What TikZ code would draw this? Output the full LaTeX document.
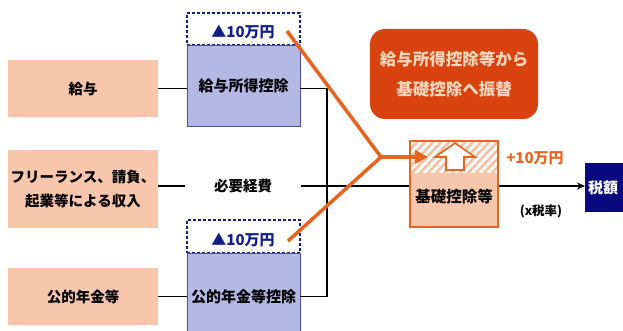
\documentclass[tikz,border=0pt]{standalone}
\usepackage{fontspec}
\setmainfont{Noto Sans CJK JP}
\usetikzlibrary{arrows.meta}
\definecolor{salmon}{HTML}{F8C6AA}
\definecolor{bluefill}{HTML}{B4B8E4}
\definecolor{blueline}{HTML}{4A4F9F}
\definecolor{navy}{HTML}{10208A}
\definecolor{deepnavy}{HTML}{0A0A80}
\definecolor{orng}{HTML}{E8641E}
\definecolor{redorng}{HTML}{D8430F}
\definecolor{peach}{HTML}{FAD8BE}
\definecolor{hatchc}{HTML}{F8C0A2}
\begin{document}
\begin{tikzpicture}[x=1pt,y=-1pt,
  inbox/.style={fill=salmon, minimum width=150pt, inner sep=0pt, align=center,
    font=\fontsize{14.5}{24}\selectfont\bfseries},
  bluebox/.style={fill=bluefill, draw=blueline, line width=0.8pt, minimum width=113pt, inner sep=0pt,
    font=\fontsize{15}{18}\selectfont\bfseries},
  dashbox/.style={draw=navy, densely dashed, line width=1.2pt, fill=white, minimum width=113pt, inner sep=0pt,
    text=navy, font=\fontsize{15}{18}\selectfont\bfseries},
  plain/.style={inner sep=0pt, font=\fontsize{14.5}{18}\selectfont\bfseries},
  conn/.style={line width=1.3pt, black},
  oline/.style={line width=3.5pt, orng},
  hatch/.style={hatchc, line width=2.6pt}]
\useasboundingbox (0,0) rectangle (623,331);

% left input boxes
\node[inbox, minimum height=57pt] (L1) at (83,88.5) {給与};
\node[inbox, minimum height=78pt] (L2) at (83,189) {フリーランス、請負、\\起業等による収入};
\node[inbox, minimum height=57pt] (L3) at (83,296.5) {公的年金等};

% blue deduction boxes
\node[dashbox, minimum height=32pt] (D1) at (243.5,29) {};
\node[plain, text=navy, font=\fontsize{15}{18}\selectfont\bfseries] (D1t) at (243,32) {▲10万円};
\node[bluebox, minimum height=81pt] (B1) at (243.5,85.5) {給与所得控除};
\node[dashbox, minimum height=33pt] (D2) at (243.5,236.5) {};
\node[plain, text=navy, font=\fontsize{15}{18}\selectfont\bfseries] (D2t) at (243,240) {▲10万円};
\node[bluebox, minimum height=88pt] (B2) at (243.5,297) {公的年金等控除};

% middle label
\node[plain, minimum width=115pt] (H) at (243,186) {必要経費};

% connectors
\coordinate (bx) at (327,88.5);
\draw[conn] (L1.east) -- (L1.east -| B1.west);
\draw[conn, line join=miter] (L1.east -| B1.east) -- (bx) -- (bx |- L3.east) -- (L3.east -| B2.east);
\draw[conn] (L3.east) -- (L3.east -| B2.west);

% base deduction box
\fill[white] (410,141) rectangle (498,173);
\begin{scope}
  \clip (410,141) rectangle (498,173);
  \foreach \i in {370,378,...,500} \draw[hatch] (\i,175) -- ++(34,-36);
\end{scope}
\fill[salmon] (410,173) rectangle (498,227);
\node[draw=orng, line width=1.6pt, minimum width=88pt, minimum height=86pt, inner sep=0pt] (K) at (454,184) {};
\node[plain, font=\fontsize{15.5}{18}\selectfont\bfseries] (Kt) at (454,197) {基礎控除等};
\draw[orng, line width=1.6pt, fill=white] (446,170) -- (446,157) -- (435,157) -- (455,143) -- (475,157) -- (464,157) -- (464,170) -- cycle;

\draw[conn] (L2.east |- H) -- (H.west);
\draw[conn] (H.east) -- (H.east -| K.west);

% tax box
\node[fill=deepnavy, text=white, minimum width=56pt, minimum height=49pt, inner sep=0pt, anchor=west,
  font=\fontsize{15}{18}\selectfont\bfseries, text width=50pt] (T) at (585,187.5) {税額};
\draw[conn, -{Stealth[length=8pt,width=7pt]}] (K.east |- H) -- (T.west |- H);

\node[plain, text=orng, font=\fontsize{15}{18}\selectfont\bfseries] (P) at (535,158) {+10万円};
\node[plain, font=\fontsize{12.5}{14}\selectfont\bfseries] (X) at (541,211) {(x税率)};

% orange callout
\node[fill=redorng, rounded corners=15pt, minimum width=168pt, minimum height=90pt, text=peach, align=center,
  font=\fontsize{16.5}{30}\selectfont\bfseries] (R) at (454,74) {給与所得控除等から\\基礎控除へ振替};

% orange transfer lines
\coordinate (s1) at (287,31);
\coordinate (s2) at (288,241);
\coordinate (J) at (381,157);
\coordinate (tipA) at (428,157);
\draw[oline, line join=miter] (s1) -- (J) -- (s2);
\draw[oline, -{Triangle[length=13pt,width=13pt]}] (J) -- (tipA);
\end{tikzpicture}
\end{document}
